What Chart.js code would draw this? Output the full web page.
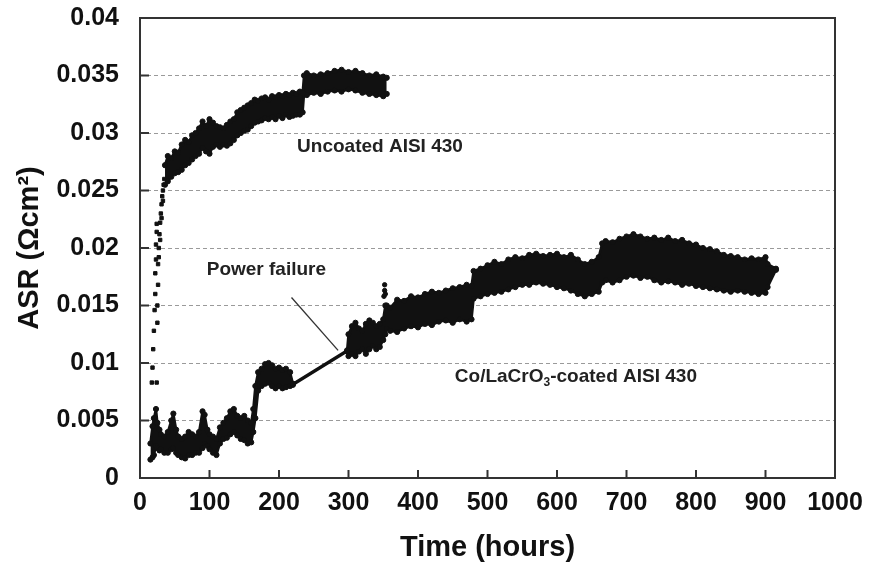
<!DOCTYPE html>
<html>
<head>
<meta charset="utf-8">
<script src="https://cdn.jsdelivr.net/npm/chart.js@4.4.1/dist/chart.umd.min.js"></script>
<style>
  html, body { margin: 0; padding: 0; background: #fff; }
  #wrap { width: 869px; height: 565px; position: relative; }
</style>
</head>
<body>
<div id="wrap"><canvas id="c"></canvas></div>
<script>
// ---------- DATA ----------
const xTickValues = [0, 100, 200, 300, 400, 500, 600, 700, 800, 900, 1000];
const yTickLabels = ['0', '0.005', '0.01', '0.015', '0.02', '0.025', '0.03', '0.035', '0.04'];

// Uncoated AISI 430: early steep rise (individual points)
const uncoatedRiseTime  = [17, 18, 19, 20, 21, 22, 22, 23, 23, 24, 24, 24, 25, 26, 26, 27, 28, 29, 30, 31, 32, 33, 34, 35, 25, 27, 29, 31, 33];
const uncoatedRiseValue = [0.0083, 0.0096, 0.0112, 0.0128, 0.0146, 0.0160, 0.0178, 0.0190, 0.0203, 0.0214, 0.0221, 0.0083, 0.0150, 0.0168, 0.0186, 0.0200, 0.0212, 0.0222, 0.0230, 0.0238, 0.0245, 0.0250, 0.0255, 0.0260, 0.0135, 0.0192, 0.0207, 0.0226, 0.0241];

// Uncoated AISI 430: band (upper / lower edge of the scatter cloud)
const uncoatedTime = [36, 40, 45, 50, 55, 60, 65, 70, 75, 80, 85, 90, 95, 100, 105, 110, 115, 120, 125, 130, 135, 140, 145, 150, 155, 160, 165, 170, 175, 180, 185, 190, 195, 200, 205, 210, 215, 220, 225, 230, 234, 236, 240, 250, 260, 270, 280, 290, 300, 310, 320, 330, 340, 350, 355];
const uncoatedHigh = [0.0272, 0.0280, 0.0278, 0.0284, 0.0283, 0.0290, 0.0294, 0.0292, 0.0298, 0.0300, 0.0304, 0.0310, 0.0306, 0.0312, 0.0309, 0.0306, 0.0305, 0.0304, 0.0307, 0.0310, 0.0312, 0.0318, 0.0320, 0.0322, 0.0324, 0.0326, 0.0329, 0.0328, 0.0330, 0.0331, 0.0329, 0.0332, 0.0331, 0.0333, 0.0332, 0.0334, 0.0333, 0.0335, 0.0334, 0.0336, 0.0335, 0.0350, 0.0352, 0.0350, 0.0351, 0.0352, 0.0354, 0.0355, 0.0353, 0.0354, 0.0352, 0.0350, 0.0351, 0.0349, 0.0348];
const uncoatedLow  = [0.0255, 0.0258, 0.0262, 0.0265, 0.0266, 0.0268, 0.0272, 0.0274, 0.0277, 0.0280, 0.0282, 0.0287, 0.0284, 0.0282, 0.0288, 0.0290, 0.0288, 0.0290, 0.0289, 0.0291, 0.0294, 0.0298, 0.0300, 0.0302, 0.0303, 0.0306, 0.0309, 0.0310, 0.0311, 0.0313, 0.0312, 0.0314, 0.0312, 0.0315, 0.0313, 0.0316, 0.0314, 0.0315, 0.0316, 0.0316, 0.0318, 0.0334, 0.0333, 0.0335, 0.0334, 0.0336, 0.0337, 0.0336, 0.0338, 0.0337, 0.0335, 0.0334, 0.0333, 0.0332, 0.0334];

// Co/LaCrO3-coated AISI 430: band (upper / lower edge of the scatter cloud)
const coatedTime = [15, 18, 20, 23, 25, 28, 30, 35, 40, 45, 48, 52, 55, 60, 65, 70, 75, 80, 85, 90, 93, 97, 100, 105, 110, 115, 120, 125, 130, 135, 140, 145, 150, 155, 160, 163, 166, 170, 175, 180, 185, 190, 195, 200, 205, 210, 216, 220, 298, 300, 305, 310, 315, 320, 325, 330, 335, 340, 345, 350, 353, 355, 360, 370, 380, 390, 400, 410, 420, 430, 440, 450, 460, 470, 477, 480, 490, 500, 510, 520, 530, 540, 550, 560, 570, 580, 590, 600, 610, 620, 630, 640, 650, 660, 665, 670, 680, 690, 700, 710, 720, 730, 740, 750, 760, 770, 780, 790, 800, 810, 820, 830, 840, 850, 860, 870, 880, 890, 900, 903, 915];
const coatedHigh = [0.0030, 0.0045, 0.0052, 0.0060, 0.0048, 0.0042, 0.0038, 0.0036, 0.0040, 0.0050, 0.0056, 0.0042, 0.0036, 0.0034, 0.0036, 0.0040, 0.0038, 0.0036, 0.0040, 0.0058, 0.0055, 0.0042, 0.0038, 0.0036, 0.0034, 0.0044, 0.0048, 0.0052, 0.0058, 0.0060, 0.0054, 0.0052, 0.0054, 0.0050, 0.0048, 0.0060, 0.0080, 0.0092, 0.0095, 0.0099, 0.0100, 0.0098, 0.0095, 0.0096, 0.0094, 0.0095, 0.0092, 0.0082, 0.0111, 0.0125, 0.0132, 0.0135, 0.0130, 0.0128, 0.0134, 0.0137, 0.0135, 0.0132, 0.0134, 0.0138, 0.0150, 0.0150, 0.0148, 0.0155, 0.0154, 0.0158, 0.0157, 0.0160, 0.0162, 0.0161, 0.0163, 0.0165, 0.0166, 0.0168, 0.0167, 0.0180, 0.0182, 0.0185, 0.0188, 0.0186, 0.0190, 0.0192, 0.0191, 0.0194, 0.0195, 0.0193, 0.0194, 0.0195, 0.0192, 0.0194, 0.0190, 0.0186, 0.0188, 0.0192, 0.0204, 0.0206, 0.0205, 0.0208, 0.0210, 0.0212, 0.0210, 0.0208, 0.0209, 0.0207, 0.0209, 0.0206, 0.0207, 0.0204, 0.0203, 0.0200, 0.0199, 0.0197, 0.0194, 0.0193, 0.0192, 0.0190, 0.0191, 0.0190, 0.0192, 0.0186, 0.0182];
const coatedLow  = [0.0016, 0.0018, 0.0020, 0.0028, 0.0026, 0.0024, 0.0025, 0.0022, 0.0022, 0.0025, 0.0026, 0.0022, 0.0020, 0.0018, 0.0017, 0.0020, 0.0020, 0.0022, 0.0022, 0.0026, 0.0030, 0.0028, 0.0025, 0.0022, 0.0020, 0.0030, 0.0034, 0.0035, 0.0038, 0.0040, 0.0037, 0.0034, 0.0033, 0.0030, 0.0031, 0.0040, 0.0052, 0.0076, 0.0080, 0.0082, 0.0083, 0.0080, 0.0078, 0.0080, 0.0078, 0.0079, 0.0080, 0.0081, 0.0110, 0.0106, 0.0108, 0.0106, 0.0110, 0.0112, 0.0108, 0.0112, 0.0115, 0.0112, 0.0114, 0.0120, 0.0125, 0.0130, 0.0128, 0.0127, 0.0130, 0.0132, 0.0131, 0.0134, 0.0133, 0.0136, 0.0137, 0.0135, 0.0138, 0.0136, 0.0138, 0.0156, 0.0158, 0.0160, 0.0161, 0.0162, 0.0164, 0.0166, 0.0168, 0.0168, 0.0170, 0.0169, 0.0168, 0.0166, 0.0165, 0.0163, 0.0160, 0.0158, 0.0160, 0.0162, 0.0170, 0.0172, 0.0170, 0.0172, 0.0175, 0.0176, 0.0174, 0.0175, 0.0172, 0.0170, 0.0171, 0.0170, 0.0168, 0.0169, 0.0167, 0.0166, 0.0165, 0.0164, 0.0163, 0.0162, 0.0163, 0.0162, 0.0161, 0.0160, 0.0161, 0.0166, 0.0181];

// isolated spike just after the cluster at ~350 h
const coatedSpikeTime  = [351, 352, 352, 353];
const coatedSpikeValue = [0.0158, 0.0163, 0.0168, 0.0160];

// pointer line of the "Power failure" note
const pointerTime  = [218, 285];
const pointerValue = [0.0157, 0.0111];

// annotation texts and their anchor (data coordinates)
const noteText  = ['Uncoated AISI 430', 'Power failure', 'Co/LaCrO3-coated AISI 430'];
const noteTime  = [226, 96, 453];
const noteValue = [0.0288, 0.0181, 0.0088];

// ---------- CHART ----------
const pts = (xs, ys) => xs.map((x, i) => ({ x: x, y: ys[i] }));
const INK = '#111';
const FONT = '"Liberation Sans", Arial, sans-serif';

const band = (data, fill) => ({
  type: 'line', data: data, fill: fill, backgroundColor: INK, borderColor: INK,
  borderWidth: 2.5, pointRadius: 2.6, pointStyle: 'circle', pointBackgroundColor: INK,
  pointBorderColor: INK, pointBorderWidth: 1, tension: 0, borderJoinStyle: 'round'
});

const overlay = {
  id: 'overlay',
  afterDraw(chart) {
    const ctx = chart.ctx, a = chart.chartArea, xs = chart.scales.x, ys = chart.scales.y;
    ctx.save();
    // frame
    ctx.strokeStyle = '#333'; ctx.lineWidth = 2;
    ctx.strokeRect(a.left, a.top, a.right - a.left, a.bottom - a.top);
    // inward tick marks
    ctx.beginPath();
    xTickValues.forEach(v => { const px = xs.getPixelForValue(v); ctx.moveTo(px, a.bottom); ctx.lineTo(px, a.bottom - 8); });
    yTickLabels.forEach((_, i) => { const py = ys.getPixelForValue(i * 0.005); ctx.moveTo(a.left, py); ctx.lineTo(a.left + 9, py); });
    ctx.stroke();
    // notes
    ctx.fillStyle = '#222'; ctx.textBaseline = 'middle'; ctx.textAlign = 'left';
    ctx.font = 'bold 19px ' + FONT;
    noteText.forEach((t, i) => {
      const px = xs.getPixelForValue(noteTime[i]), py = ys.getPixelForValue(noteValue[i]);
      if (t.indexOf('O3') >= 0) {
        const [a1, a2] = t.split('O3');
        const p1 = a1 + 'O';
        ctx.fillText(p1, px, py);
        const w1 = ctx.measureText(p1).width;
        ctx.font = 'bold 12px ' + FONT;
        ctx.fillText('3', px + w1, py + 6);
        const w2 = ctx.measureText('3').width;
        ctx.font = 'bold 19px ' + FONT;
        ctx.fillText(a2, px + w1 + w2, py);
      } else {
        ctx.fillText(t, px, py);
      }
    });
    // axis titles
    ctx.fillStyle = '#111';
    ctx.font = 'bold 29px ' + FONT;
    ctx.textAlign = 'center';
    ctx.fillText('Time (hours)', (a.left + a.right) / 2, 548);
    ctx.translate(30, (a.top + a.bottom) / 2);
    ctx.rotate(-Math.PI / 2);
    ctx.fillText('ASR (Ωcm²)', 0, 0);
    ctx.restore();
  }
};

new Chart(document.getElementById('c'), {
  type: 'line',
  data: {
    datasets: [
      band(pts(uncoatedTime, uncoatedHigh), false),
      band(pts(uncoatedTime, uncoatedLow), '-1'),
      band(pts(coatedTime, coatedHigh), false),
      band(pts(coatedTime, coatedLow), '-1'),
      { type: 'scatter', data: pts(uncoatedRiseTime, uncoatedRiseValue), pointStyle: 'rect', pointRadius: 2.4,
        backgroundColor: INK, borderColor: INK, borderWidth: 1, showLine: false },
      { type: 'scatter', data: pts(coatedSpikeTime, coatedSpikeValue), pointStyle: 'circle', pointRadius: 2.2,
        backgroundColor: INK, borderColor: INK, borderWidth: 1, showLine: false },
      { type: 'line', data: pts(pointerTime, pointerValue), borderColor: '#333', borderWidth: 1.3,
        pointRadius: 0, fill: false }
    ]
  },
  options: {
    responsive: true, maintainAspectRatio: false, animation: false,
    layout: { padding: { top: 18, right: 34, left: 0, bottom: 0 } },
    plugins: { legend: { display: false }, tooltip: { enabled: false } },
    scales: {
      x: {
        type: 'linear', min: 0, max: 1000,
        afterFit: s => { s.height = 87; s.paddingLeft = 0; s.paddingRight = 0; s.paddingTop = 0; s.paddingBottom = 0; },
        afterBuildTicks: s => { s.ticks = xTickValues.map(v => ({ value: v })); },
        grid: { display: false, drawTicks: false },
        border: { display: false },
        ticks: { padding: 10, color: '#111', font: { family: FONT, size: 25, weight: 'bold' }, maxRotation: 0,
                 callback: v => String(v) }
      },
      y: {
        type: 'linear', min: 0, max: 0.04,
        afterFit: s => { s.width = 140; s.paddingTop = 0; s.paddingBottom = 0; s.paddingLeft = 0; s.paddingRight = 0; },
        afterBuildTicks: s => { s.ticks = yTickLabels.map((_, i) => ({ value: i * 0.005 })); },
        grid: { drawTicks: false, lineWidth: 1,
                color: c => (c.index === 0 || c.index === yTickLabels.length - 1) ? 'rgba(0,0,0,0)' : '#9a9a9a' },
        border: { display: false, dash: [4, 3] },
        ticks: { padding: 21, color: '#111', font: { family: FONT, size: 25, weight: 'bold' },
                 callback: (v, i) => yTickLabels[i] }
      }
    }
  },
  plugins: [overlay]
});
</script>
</body>
</html>
